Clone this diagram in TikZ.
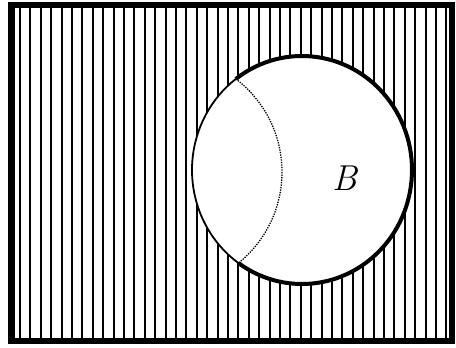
\documentclass[tikz,border=0pt]{standalone}
\begin{document}
\begin{tikzpicture}[x=1pt,y=-1pt,
  hatch/.style={line width=2.1pt},
  frame/.style={line width=6.5pt},
  bthick/.style={line width=4pt},
  bthin/.style={line width=1.8pt},
  adot/.style={line width=1.3pt,dash pattern=on 1.3pt off 1.2pt}]
\useasboundingbox (0,0) rectangle (456,348);
\fill[white] (0,0) rectangle (456,348);
% hatching
\foreach \i in {0,...,41} \draw[hatch] ({20+\i*10.4},5) -- ({20+\i*10.4},341);
% circle B interior
\fill[white] (302,170) ellipse [x radius=110, y radius=114];
% B boundary: thick outer part
\draw[bthick] (302,170) ++(-127:110 and 114) arc[start angle=-127, end angle=125, x radius=110, y radius=114];
% B boundary: thin part inside A
\draw[bthin] (302,170) ++(125:110 and 114) arc[start angle=125, end angle=233, x radius=110, y radius=114];
% arc of A inside B
\begin{scope}
  \clip (302,170) ellipse [x radius=110, y radius=114];
  \draw[adot] (165,172) circle (117);
\end{scope}
% frame
\draw[frame] (11.5,5) rectangle (452,341);
\node[font=\fontsize{36}{40}\selectfont\itshape] (b) at (345,178) {B};
\end{tikzpicture}
\end{document}
